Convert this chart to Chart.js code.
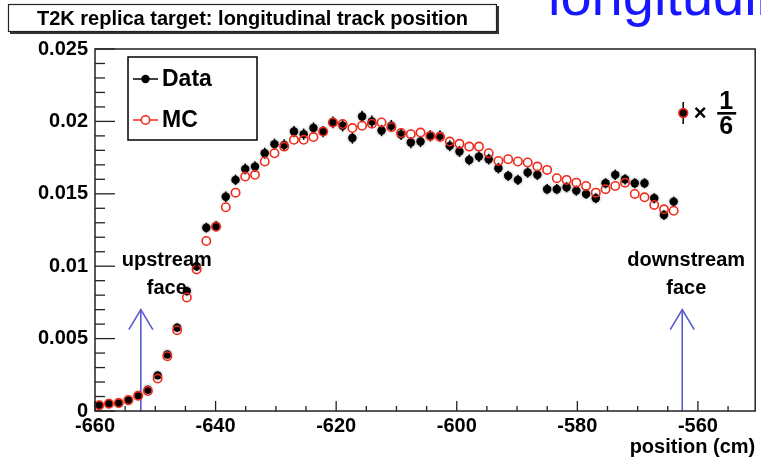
<!DOCTYPE html>
<html><head><meta charset="utf-8">
<script src="https://cdn.jsdelivr.net/npm/chart.js@4.4.1/dist/chart.umd.min.js"></script>
<style>html,body{margin:0;padding:0;background:#fff;overflow:hidden}canvas{display:block}</style>
</head><body><canvas id="c" width="761" height="460"></canvas>
<script>
const titleText = 'T2K replica target: longitudinal track position';
const slideText = 'longitudinal';
const xAxisTitle = 'position (cm)';
const seriesNames = ['Data', 'MC'];

const binCenters = [-659.3,-657.69,-656.07,-654.46,-652.84,-651.23,-649.61,-648.0,-646.38,-644.77,
  -643.15,-641.54,-639.92,-638.31,-636.69,-635.08,-633.46,-631.85,-630.23,-628.62,
  -627.0,-625.39,-623.77,-622.16,-620.54,-618.93,-617.31,-615.7,-614.08,-612.47,
  -610.85,-609.24,-607.62,-606.01,-604.39,-602.78,-601.16,-599.55,-597.93,-596.32,
  -594.7,-593.09,-591.47,-589.86,-588.24,-586.63,-585.01,-583.4,-581.78,-580.17,
  -578.55,-576.94,-575.32,-573.71,-572.09,-570.48,-568.86,-567.25,-565.63,-564.02];

const dataValues = [0.0004,0.0005,0.00055,0.00073,0.00108,0.00147,0.00246,0.0039,0.00576,0.00828,
  0.0100,0.01266,0.01278,0.0148,0.01596,0.01672,0.01688,0.0178,0.01843,0.01838,
  0.0193,0.01912,0.01954,0.0193,0.01993,0.0197,0.01885,0.02034,0.0200,0.01937,
  0.0197,0.0191,0.01854,0.01861,0.0190,0.0190,0.01831,0.01792,0.01734,0.01757,
  0.01739,0.01677,0.01624,0.01596,0.01647,0.01631,0.01532,0.01532,0.01545,0.01522,
  0.01499,0.01469,0.01573,0.01631,0.0160,0.01573,0.01573,0.01469,0.01354,0.01446];

const dataErrors = [0.00012,0.00012,0.00012,0.00013,0.00015,0.00016,0.0002,0.00024,0.00028,0.0003,
  0.00032,0.00034,0.00034,0.00036,0.00036,0.00037,0.00037,0.00038,0.00038,0.00038,
  0.00039,0.00039,0.00039,0.00039,0.0004,0.0004,0.00039,0.0004,0.0004,0.00039,
  0.0004,0.00039,0.00039,0.00039,0.00039,0.00039,0.00038,0.00038,0.00037,0.00037,
  0.00037,0.00037,0.00036,0.00036,0.00036,0.00036,0.00035,0.00035,0.00035,0.00035,
  0.00034,0.00034,0.00035,0.00036,0.00035,0.00035,0.00035,0.00034,0.00033,0.00034];

const mcValues = [0.0004,0.0005,0.00055,0.00076,0.00105,0.00138,0.00224,0.00378,0.00558,0.00784,
  0.00978,0.01174,0.01273,0.01407,0.01508,0.01619,0.01631,0.01723,0.0178,0.01826,
  0.01873,0.01873,0.01892,0.0193,0.01993,0.01982,0.01954,0.0197,0.01984,0.01993,
  0.0196,0.0192,0.01912,0.01923,0.0190,0.01892,0.01861,0.01845,0.01826,0.01826,
  0.0178,0.01727,0.01739,0.01723,0.01716,0.01688,0.01665,0.01608,0.01596,0.01577,
  0.01554,0.01508,0.01532,0.01554,0.01577,0.01499,0.01476,0.01423,0.01393,0.01383];

const xTickValues = [-660,-640,-620,-600,-580,-560];
const xTickLabels = ['-660','-640','-620','-600','-580','-560'];
const yTickValues = [0,0.005,0.01,0.015,0.02,0.025];
const yTickLabels = ['0','0.005','0.01','0.015','0.02','0.025'];

const faceMarkers = [-652.4, -562.6];
const faceLabels = [['upstream','face'],['downstream','face']];
const arrowTop = 0.0070;
const scaleNote = ['\u00d7', '1', '6'];

const FONT = '"Liberation Sans", Arial, Helvetica, sans-serif';
const ARROW = '#5a5ad2';
const MCRED = '#f02a1a';

const rootPlugin = {
  id: 'rootStyle',
  beforeDatasetsDraw(chart) {
    const {ctx, scales: {x, y}} = chart;
    ctx.save();
    ctx.strokeStyle = ARROW; ctx.lineWidth = 1.6;
    faceMarkers.forEach((v) => {
      const px = x.getPixelForValue(v);
      const y0 = y.getPixelForValue(0), y1 = y.getPixelForValue(arrowTop);
      ctx.beginPath(); ctx.moveTo(px, y0); ctx.lineTo(px, y1); ctx.stroke();
      ctx.beginPath(); ctx.moveTo(px - 12, y1 + 20); ctx.lineTo(px, y1); ctx.lineTo(px + 12, y1 + 20); ctx.stroke();
    });
    ctx.restore();
    ctx.save();
    ctx.strokeStyle = '#000'; ctx.lineWidth = 1.5;
    binCenters.forEach((c, i) => {
      const px = x.getPixelForValue(c);
      ctx.beginPath();
      ctx.moveTo(px, y.getPixelForValue(dataValues[i] - dataErrors[i]));
      ctx.lineTo(px, y.getPixelForValue(dataValues[i] + dataErrors[i]));
      ctx.stroke();
    });
    ctx.restore();
  },
  beforeDatasetDraw(chart, args) {
    if (args.index === 0) {
      chart.ctx.save();
      chart.ctx.shadowColor = 'rgba(0,0,0,0.45)';
      chart.ctx.shadowBlur = 3;
    }
  },
  afterDatasetDraw(chart, args) {
    if (args.index === 0) chart.ctx.restore();
  },
  afterDraw(chart) {
    const {ctx, chartArea: a, scales: {x, y}} = chart;
    ctx.save();
    ctx.strokeStyle = '#222'; ctx.lineWidth = 1.5;
    ctx.strokeRect(a.left, a.top, a.right - a.left, a.bottom - a.top);
    ctx.lineWidth = 1.3;
    for (let i = 0; i <= 25; i++) {
      const py = y.getPixelForValue(i * 0.001);
      const len = (i % 5 === 0) ? 20 : 10;
      ctx.beginPath(); ctx.moveTo(a.left, py); ctx.lineTo(a.left + len, py); ctx.stroke();
    }
    for (let v = -660; v <= x.max; v += 5) {
      const px = x.getPixelForValue(v);
      const len = (v % 20 === 0) ? 10 : 5;
      ctx.beginPath(); ctx.moveTo(px, a.bottom); ctx.lineTo(px, a.bottom - len); ctx.stroke();
    }
    ctx.fillStyle = '#000';
    ctx.font = 'bold 20px ' + FONT;
    ctx.textAlign = 'right'; ctx.textBaseline = 'middle';
    ctx.fillText(xAxisTitle, a.right, 447);
    ctx.textAlign = 'center';
    faceMarkers.forEach((v, i) => {
      const px = x.getPixelForValue(v) + (i === 0 ? 26 : 4);
      const ty = y.getPixelForValue(arrowTop);
      ctx.fillText(faceLabels[i][0], px, ty - 49);
      ctx.fillText(faceLabels[i][1], px, ty - 21);
    });
    const lx = a.left + 33, ly = a.top + 8, lw = 129, lh = 83;
    ctx.fillStyle = '#fff'; ctx.fillRect(lx, ly, lw, lh);
    ctx.strokeStyle = '#000'; ctx.lineWidth = 1.5;
    ctx.strokeRect(lx, ly, lw, lh);
    const r1 = ly + 22, r2 = ly + 63, mx = lx + 17.5;
    ctx.lineWidth = 1.5;
    ctx.strokeStyle = '#000';
    ctx.beginPath(); ctx.moveTo(lx + 5, r1); ctx.lineTo(lx + 30, r1); ctx.stroke();
    ctx.fillStyle = '#000';
    ctx.beginPath(); ctx.arc(mx, r1, 4.2, 0, Math.PI * 2); ctx.fill();
    ctx.strokeStyle = MCRED;
    ctx.beginPath(); ctx.moveTo(lx + 5, r2); ctx.lineTo(mx - 4.2, r2); ctx.moveTo(mx + 4.2, r2); ctx.lineTo(lx + 30, r2); ctx.stroke();
    ctx.lineWidth = 1.6;
    ctx.beginPath(); ctx.arc(mx, r2, 4.2, 0, Math.PI * 2); ctx.stroke();
    ctx.fillStyle = '#000';
    ctx.font = 'bold 23px ' + FONT;
    ctx.textAlign = 'left'; ctx.textBaseline = 'middle';
    ctx.fillText(seriesNames[0], lx + 34, r1 + 1);
    ctx.fillText(seriesNames[1], lx + 34, r2 + 1);
    const nx = a.right - 72, ny = a.top + 64;
    ctx.strokeStyle = '#000'; ctx.lineWidth = 1.5;
    ctx.beginPath(); ctx.moveTo(nx, ny - 11); ctx.lineTo(nx, ny + 11); ctx.stroke();
    ctx.fillStyle = '#000';
    ctx.beginPath(); ctx.arc(nx, ny, 4.2, 0, Math.PI * 2); ctx.fill();
    ctx.strokeStyle = MCRED; ctx.lineWidth = 1.6;
    ctx.beginPath(); ctx.arc(nx, ny, 4.4, 0, Math.PI * 2); ctx.stroke();
    ctx.fillStyle = '#000';
    ctx.textAlign = 'center';
    ctx.font = 'bold 22px ' + FONT;
    ctx.fillText(scaleNote[0], nx + 17, ny + 1);
    ctx.font = 'bold 25px ' + FONT;
    ctx.fillText(scaleNote[1], nx + 43, ny - 11);
    ctx.fillText(scaleNote[2], nx + 43, ny + 14);
    ctx.fillRect(nx + 34, ny - 1, 19, 2.6);
    ctx.fillStyle = '#333';
    ctx.fillRect(10, 6, 489, 28);
    ctx.fillStyle = '#fff';
    ctx.fillRect(8, 4, 489, 28);
    ctx.strokeStyle = '#222'; ctx.lineWidth = 1.2;
    ctx.strokeRect(8.5, 4.5, 488, 27);
    ctx.fillStyle = '#000';
    ctx.font = 'bold 20px ' + FONT;
    ctx.textAlign = 'center'; ctx.textBaseline = 'middle';
    ctx.fillText(titleText, 252.5, 19, 452);
    ctx.fillStyle = '#1616ff';
    ctx.font = '56px ' + FONT;
    ctx.textAlign = 'left'; ctx.textBaseline = 'alphabetic';
    ctx.fillText(slideText, 548, 15);
    ctx.restore();
  }
};

new Chart(document.getElementById('c'), {
  type: 'scatter',
  data: {
    datasets: [
      {
        label: seriesNames[0],
        data: binCenters.map((c, i) => ({x: c, y: dataValues[i]})),
        pointStyle: 'circle', pointRadius: 4.2, backgroundColor: '#000', borderWidth: 0,
        showLine: false, order: 2, clip: false
      },
      {
        label: seriesNames[1],
        data: binCenters.map((c, i) => ({x: c, y: mcValues[i]})),
        pointStyle: 'circle', pointRadius: 4.2, backgroundColor: 'rgba(0,0,0,0)',
        borderColor: MCRED, borderWidth: 1.6,
        showLine: false, order: 1, clip: false
      }
    ]
  },
  options: {
    responsive: false, animation: false, devicePixelRatio: 1, events: [],
    layout: {padding: {left: 0, right: 1, top: 49, bottom: 0}},
    plugins: {legend: {display: false}, tooltip: {enabled: false}, title: {display: false}},
    scales: {
      x: {
        type: 'linear', position: 'bottom', min: -660, max: -550.5,
        afterBuildTicks: (s) => { s.ticks = xTickValues.map(v => ({value: v})); },
        afterFit: (s) => { s.height = 49; },
        grid: {display: false, drawTicks: false}, border: {display: false},
        ticks: {
          autoSkip: false, maxRotation: 0, padding: 3, color: '#000',
          font: {family: FONT, size: 20, weight: 'bold'},
          callback: (v) => { const i = xTickValues.indexOf(v); return i >= 0 ? xTickLabels[i] : ''; }
        }
      },
      y: {
        type: 'linear', position: 'left', min: 0, max: 0.025,
        afterBuildTicks: (s) => { s.ticks = yTickValues.map(v => ({value: v})); },
        afterFit: (s) => { s.width = 95; },
        grid: {display: false, drawTicks: false}, border: {display: false},
        ticks: {
          autoSkip: false, padding: 7, color: '#000',
          font: {family: FONT, size: 20, weight: 'bold'},
          callback: (v) => { const i = yTickValues.indexOf(v); return i >= 0 ? yTickLabels[i] : ''; }
        }
      }
    }
  },
  plugins: [rootPlugin]
});
</script>
</body></html>
